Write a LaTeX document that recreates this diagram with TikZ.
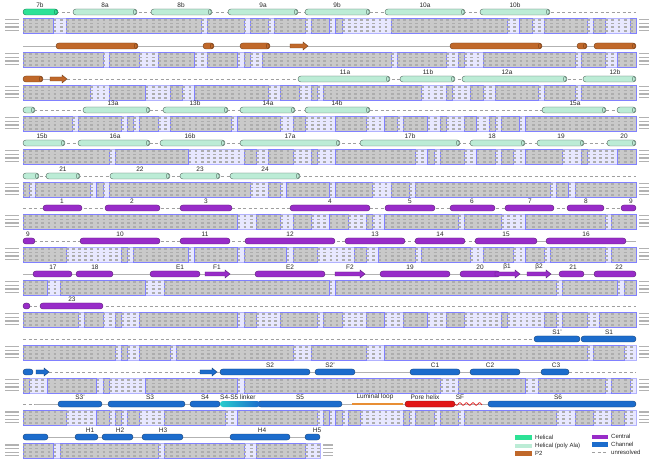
\documentclass[tikz,border=0pt]{standalone}
\usepackage{fontspec}
\setmainfont{Liberation Sans}
\usetikzlibrary{calc}

\definecolor{helical}{RGB}{45,226,150}
\definecolor{polyala}{RGB}{188,236,214}
\definecolor{ptwo}{RGB}{192,104,42}
\definecolor{central}{RGB}{152,44,200}
\definecolor{channel}{RGB}{28,108,204}
\definecolor{porered}{RGB}{226,22,22}
\definecolor{luminal}{RGB}{232,142,52}
\definecolor{linkteal}{RGB}{40,205,205}

\tikzset{
  hel/.style={fill=helical, draw=helical!55!black, line width=0.4pt},
  ala/.style={fill=polyala, draw=polyala!45!black, line width=0.4pt},
  ptw/.style={fill=ptwo, draw=ptwo!60!black, line width=0.4pt},
  cen/.style={fill=central, draw=central!60!black, line width=0.4pt},
  chn/.style={fill=channel, draw=channel!60!black, line width=0.4pt},
  gap/.style={gray!75, dash pattern=on 3pt off 2.5pt, line width=0.5pt},
  link/.style={gray!60, line width=0.8pt},
  lbl/.style={font=\fontsize{6.5}{7}\selectfont, inner sep=0pt, text=black!85},
  key/.style={font=\fontsize{6}{7}\selectfont, inner sep=0pt, anchor=west, text=black!85},
  seqbg/.style={fill=blue!9, draw=blue!30, line width=0.25pt},
  idcell/.style={fill=gray!42, draw=blue!50, line width=0.35pt},
  resid/.style={black!32, line width=1.9pt, dash pattern=on 2.8pt off 3.33pt},
  tag/.style={fill=gray!60}
}

% helix with end cap, plain rod, strand arrow
\newcommand{\hlx}[4][]{%
  \draw[#1, rounded corners=2.9pt] (#2,#4-3) rectangle (#3,#4+3);
  \draw[#1] (#3-2.2,#4) ellipse (1.4 and 2.4);}
\newcommand{\rod}[4][]{%
  \draw[#1, rounded corners=2.9pt] (#2,#4-3) rectangle (#3,#4+3);}
\newcommand{\strand}[4][]{%
  \draw[#1] (#2,#4-2) -- (#3-5,#4-2) -- (#3-5,#4-4) -- (#3,#4)
    -- (#3-5,#4+4) -- (#3-5,#4+2) -- (#2,#4+2) -- cycle;}

% four aligned sequence lines under a structure row
\gdef\seqstate{1}
\gdef\runstart{0}
\newcommand{\seqblock}[2]{%
  \filldraw[seqbg] (23,#1+6) rectangle (#2,#1+21);
  \pgfmathtruncatemacro{\ncol}{(#2-23)/6.13}%
  \gdef\seqstate{1}\gdef\runstart{0}%
  \foreach \c in {1,...,\ncol}{%
    \pgfmathsetmacro{\rv}{rnd}%
    \ifnum\seqstate=1
      \ifdim\rv pt<0.14pt
        \gdef\seqstate{0}%
        \filldraw[idcell] (23+\runstart*6.13,#1+6) rectangle (23+\c*6.13,#1+21);
      \fi
    \else
      \ifdim\rv pt<0.45pt \gdef\seqstate{1}\xdef\runstart{\c}\fi
    \fi}%
  \ifnum\seqstate=1
    \filldraw[idcell] (23+\runstart*6.13,#1+6) rectangle (#2,#1+21);
  \fi
  \foreach \k in {0,...,3}{%
    \draw[resid] (23,#1+7.9+\k*3.6) -- (#2,#1+7.9+\k*3.6);
    \fill[tag] (5,#1+7.3+\k*3.6) rectangle ++(14,1.2);
    \fill[tag] (#2+3,#1+7.3+\k*3.6) rectangle ++(10,1.2);}%
}

\begin{document}
\begin{tikzpicture}[x=1pt,y=-1pt]
\useasboundingbox (0,0) rectangle (654,465);
\pgfmathsetseed{11}

% alignment blocks
\foreach \by/\bx in {12/636,46/636,79/636,110/636,143/636,176/636,208/636,
  241/636,274/636,306/636,339/636,372/636,404/636,437/320}{
  \seqblock{\by}{\bx}}

% row 1
\draw[gap] (23,12) -- (636,12);
\hlx[hel]{23}{58}{12}
\node[lbl] (r1-7b) at (40,5) {7b};
\foreach \a/\b/\c/\t in {73/137/105/8a,151/212/181/8b,228/298/263/9a,
  305/370/337/9b,385/465/425/10a,480/550/515/10b}{
  \hlx[ala]{\a}{\b}{12}
  \node[lbl] (r1-\t) at (\c,5) {\t};}

% row 2 (P2)
\draw[link] (23,46) -- (636,46);
\foreach \a/\b in {56/138,203/214,240/270,450/542,577/587,594/636}{
  \hlx[ptw]{\a}{\b}{46}}
\strand[ptw]{290}{308}{46}

% row 3
\draw[gap] (67,79) -- (636,79);
\draw[link] (43,79) -- (50,79);
\hlx[ptw]{23}{43}{79}
\strand[ptw]{50}{67}{79}
\foreach \a/\b/\c/\t in {298/390/345/11a,400/455/428/11b,462/567/507/12a,583/636/615/12b}{
  \hlx[ala]{\a}{\b}{79}
  \node[lbl] (r3-\t) at (\c,72) {\t};}

% row 4
\draw[gap] (23,110) -- (636,110);
\hlx[ala]{23}{35}{110}
\hlx[ala]{617}{636}{110}
\foreach \a/\b/\c/\t in {83/150/113/13a,163/228/195/13b,240/295/268/14a,
  305/370/337/14b,542/606/575/15a}{
  \hlx[ala]{\a}{\b}{110}
  \node[lbl] (r4-\t) at (\c,103) {\t};}

% row 5
\draw[gap] (23,143) -- (636,143);
\foreach \a/\b/\c/\t in {23/65/42/15b,78/150/115/16a,160/225/190/16b,240/340/290/17a,
  360/460/410/17b,470/525/492/18,537/584/561/19,607/636/624/20}{
  \hlx[ala]{\a}{\b}{143}
  \node[lbl] (r5-\t) at (\c,136) {\t};}

% row 6
\draw[gap] (23,176) -- (636,176);
\hlx[ala]{23}{39}{176}
\foreach \a/\b/\c/\t in {46/80/63/21,110/170/140/22,180/220/200/23,230/300/265/24}{
  \hlx[ala]{\a}{\b}{176}
  \node[lbl] (r6-\t) at (\c,169) {\t};}

% row 7 (central)
\draw[gap] (23,208) -- (636,208);
\foreach \a/\b/\c/\t in {43/82/62/1,105/160/132/2,180/232/206/3,290/370/330/4,
  385/435/410/5,450/495/472/6,505/554/530/7,567/604/586/8,621/636/631/9}{
  \rod[cen]{\a}{\b}{208}
  \node[lbl] (r7-\t) at (\c,201) {\t};}

% row 8
\draw[gap] (23,241) -- (636,241);
\draw[link] (537,241) -- (636,241);
\foreach \a/\b/\c/\t in {23/35/28/9,80/160/120/10,180/230/205/11,245/335/290/12,
  345/405/375/13,415/465/440/14,475/537/506/15,546/626/586/16}{
  \rod[cen]{\a}{\b}{241}
  \node[lbl] (r8-\t) at (\c,234) {\t};}

% row 9
\draw[link] (23,274) -- (636,274);
\foreach \a/\b/\c/\t in {33/72/53/17,76/113/95/18,150/200/180/E1,255/325/290/E2,
  380/450/410/19,460/500/480/20,559/584/573/21,594/636/619/22}{
  \rod[cen]{\a}{\b}{274}
  \node[lbl] (r9-\t) at (\c,267) {\t};}
\strand[cen]{205}{230}{274}
\node[lbl] (r9-F1) at (217,267) {F1};
\strand[cen]{335}{365}{274}
\node[lbl] (r9-F2) at (350,267) {F2};
\strand[cen]{495}{520}{274}
\node[lbl] (r9-b1) at (507,267) {β1};
\strand[cen]{527}{551}{274}
\node[lbl] (r9-b2) at (539,267) {β2};

% row 10
\draw[gap] (23,306) -- (636,306);
\rod[cen]{23}{30}{306}
\rod[cen]{40}{103}{306}
\node[lbl] (r10-23) at (72,299) {23};

% row 11 (channel)
\draw[gap] (23,339) -- (534,339);
\rod[chn]{534}{580}{339}
\rod[chn]{581}{636}{339}
\node[lbl] (r11-s1p) at (557,332) {S1'};
\node[lbl] (r11-s1) at (609,332) {S1};

% row 12
\draw[gap] (49,372) -- (200,372);
\draw[link] (217,372) -- (569,372);
\draw[gap] (569,372) -- (636,372);
\rod[chn]{23}{33}{372}
\strand[chn]{36}{49}{372}
\strand[chn]{200}{217}{372}
\foreach \a/\b/\c/\t in {220/310/270/S2,315/355/330/S2',410/460/435/C1,
  470/520/490/C2,541/569/556/C3}{
  \rod[chn]{\a}{\b}{372}
  \node[lbl] (r12-\t) at (\c,365) {\t};}

% row 13
\draw[gap] (23,404) -- (35,404);
\draw[link] (35,404) -- (636,404);
\foreach \a/\b/\c/\t in {58/102/80/S3',108/185/150/S3,190/220/205/S4,
  258/342/300/S5,488/636/558/S6}{
  \rod[chn]{\a}{\b}{404}
  \node[lbl] (r13-\t) at (\c,397) {\t};}
\shade[left color=linkteal, right color=channel, rounded corners=2.9pt]
  (220,401) rectangle (260,407);
\node[lbl, anchor=west] (r13-lk) at (220,397) {S4-S5 linker};
\draw[luminal, line width=1.6pt] (352,404) -- (403,404);
\node[lbl] (r13-lum) at (375,397) {Luminal loop};
\rod[fill=porered, draw=porered!60!black, line width=0.4pt]{405}{455}{404}
\node[lbl] (r13-ph) at (425,397) {Pore helix};
\draw[porered, line width=0.7pt] plot[domain=455:482, samples=60]
  (\x, {404+1.3*sin((\x-455)*55)});
\node[lbl] (r13-sf) at (460,397) {SF};

% row 14
\draw[link] (23,437) -- (320,437);
\rod[chn]{23}{48}{437}
\foreach \a/\b/\c/\t in {75/98/90/H1,102/133/120/H2,142/183/163/H3,
  230/290/262/H4,305/320/317/H5}{
  \rod[chn]{\a}{\b}{437}
  \node[lbl] (r14-\t) at (\c,430) {\t};}

% legend
\fill[helical] (515,435) rectangle (532,439.5);
\fill[polyala] (515,443.5) rectangle (532,448);
\fill[ptwo] (515,451) rectangle (532,455.5);
\fill[central] (592,434.5) rectangle (608,439);
\fill[channel] (592,442) rectangle (608,446.5);
\draw[gap] (592,452.7) -- (608,452.7);
\node[key] (k-hel) at (535,437.2) {Helical};
\node[key] (k-ala) at (535,445.7) {Helical (poly Ala)};
\node[key] (k-p2) at (535,453.2) {P2};
\node[key] (k-cen) at (611,436.7) {Central};
\node[key] (k-chn) at (611,444.2) {Channel};
\node[key] (k-unr) at (611,452.7) {unresolved};

\end{tikzpicture}
\end{document}
